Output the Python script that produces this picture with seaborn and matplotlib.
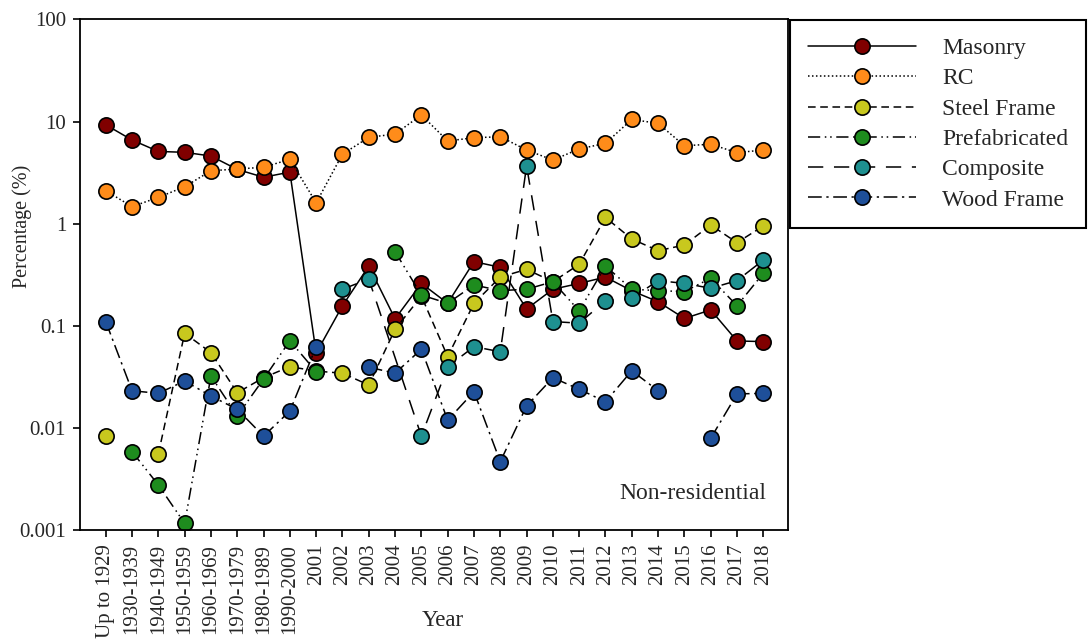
import numpy as np
import pandas as pd
import matplotlib
matplotlib.use("Agg")
import matplotlib.pyplot as plt
from matplotlib.lines import Line2D
from matplotlib.ticker import FixedLocator, FixedFormatter, NullLocator
import seaborn as sns

nan = np.nan

YEARS = ["Up to 1929", "1930-1939", "1940-1949", "1950-1959", "1960-1969",
         "1970-1979", "1980-1989", "1990-2000", "2001", "2002", "2003", "2004",
         "2005", "2006", "2007", "2008", "2009", "2010", "2011", "2012", "2013",
         "2014", "2015", "2016", "2017", "2018"]

MASONRY = [9.3, 6.6, 5.1, 5.0, 4.6, 3.4, 2.85, 3.2, 0.054, 0.157, 0.385, 0.117,
           0.26, 0.166, 0.425, 0.374, 0.146, 0.228, 0.26, 0.30, 0.22, 0.172,
           0.118, 0.143, 0.071, 0.070]
RC = [2.1, 1.47, 1.81, 2.3, 3.3, 3.43, 3.57, 4.27, 1.6, 4.8, 7.0, 7.56, 11.6,
      6.46, 6.95, 7.1, 5.27, 4.2, 5.39, 6.13, 10.5, 9.6, 5.8, 6.0, 4.96, 5.27]
STEEL = [0.0083, nan, 0.00555, 0.0845, 0.0546, 0.0221, 0.031, 0.0398, 0.036,
         0.0343, 0.0263, 0.0924, 0.195, 0.0499, 0.166, 0.30, 0.357, 0.27, 0.40,
         1.15, 0.708, 0.544, 0.618, 0.97, 0.652, 0.95]
PREFAB = [nan, 0.00585, 0.00276, 0.00116, 0.0322, 0.0131, 0.0301, 0.0714,
          0.0355, nan, nan, 0.532, 0.2, 0.166, 0.251, 0.221, 0.228, 0.27, 0.14,
          0.385, 0.228, 0.221, 0.216, 0.292, 0.157, 0.327]
COMPOSITE = [nan, nan, nan, nan, nan, nan, nan, nan, nan, 0.228, 0.287, nan,
             0.0083, 0.0398, 0.0624, 0.0557, 3.68, 0.11, 0.106, 0.176, 0.186,
             0.277, 0.26, 0.233, 0.277, 0.44]
WOOD = [0.11, 0.0231, 0.0218, 0.0288, 0.0205, 0.0152, 0.0083, 0.0146, 0.0624,
        nan, 0.0393, 0.0343, 0.0589, 0.0119, 0.0226, 0.00467, 0.0164, 0.031,
        0.0239, 0.018, 0.0363, 0.0231, nan, 0.0079, 0.0215, 0.0218]

SERIES = ["Masonry", "RC", "Steel Frame", "Prefabricated", "Composite", "Wood Frame"]
VALUES = [MASONRY, RC, STEEL, PREFAB, COMPOSITE, WOOD]
COLORS = ["#800000", "#ff8c1a", "#c8c81e", "#1e8c1e", "#1e9090", "#1e4f99"]
DASHES = ["", (1, 1.6), (5, 3), (8, 3, 1, 2.5, 1, 3), (10, 7), (9, 3, 1.5, 3)]
JOINED = ["Composite"]  # line drawn across its missing 2004 value

YTICKS = [0.001, 0.01, 0.1, 1, 10, 100]
YTICK_LABELS = ["0.001", "0.01", "0.1", "1", "10", "100"]

# long table, one "seg" per unbroken run of values
rows = []
for name, vals in zip(SERIES, VALUES):
    s = pd.Series(vals, dtype=float)
    seg = s.isna().cumsum() if name not in JOINED else pd.Series(0, index=s.index)
    for year, v, g in zip(YEARS, s, seg):
        if not np.isnan(v):
            rows.append({"year": year, "value": v, "type": name, "seg": f"{name}-{g}"})
df = pd.DataFrame(rows)

sns.set_theme(style="ticks")
plt.rcParams["font.family"] = ["Liberation Serif", "DejaVu Serif"]

fig, ax = plt.subplots(figsize=(10.88, 6.41), dpi=100)
fig.subplots_adjust(left=0.0735, right=0.7243, top=0.9696, bottom=0.1732)

sns.lineplot(data=df, x="year", y="value", hue="type", style="type", units="seg",
             estimator=None, sort=False, hue_order=SERIES, style_order=SERIES,
             palette=dict(zip(SERIES, COLORS)), dashes=dict(zip(SERIES, DASHES)),
             markers={s: "o" for s in SERIES}, markersize=11,
             markeredgecolor="black", markeredgewidth=1.2, linewidth=1.1,
             legend=False, ax=ax)

# black connecting lines, coloured marker faces
for line in ax.lines:
    line.set_markerfacecolor(line.get_color())
    line.set_color("black")

ax.set_yscale("log")
ax.set_ylim(0.001, 100)
ax.yaxis.set_major_locator(FixedLocator(YTICKS))
ax.yaxis.set_major_formatter(FixedFormatter(YTICK_LABELS))
ax.yaxis.set_minor_locator(NullLocator())
ax.set_xlim(-0.98, 25.94)
ax.set_xticks(range(len(YEARS)))
ax.set_xticklabels(YEARS, rotation=90)

ax.tick_params(direction="out", length=5, width=1.2, labelsize=15, pad=5, color="black")
for sp in ax.spines.values():
    sp.set_color("black")
    sp.set_linewidth(1.3)

ax.set_xlabel("Year", fontsize=16.5)
ax.xaxis.set_label_coords(0.512, -0.157)
ax.set_ylabel("Percentage (%)", fontsize=14.5)
ax.yaxis.set_label_coords(-0.068, 0.595)

ax.text(0.970, 0.072, "Non-residential", transform=ax.transAxes, fontsize=17,
        ha="right", va="center")

handles = [Line2D([], [], color="black", dashes=d, linewidth=1.1, marker="o",
                  markersize=11, markerfacecolor=c, markeredgecolor="black",
                  markeredgewidth=1.2) for c, d in zip(COLORS, DASHES)]
leg = ax.legend(handles, SERIES, loc="upper left", bbox_to_anchor=(790 / 1088, 1 - 20 / 641),
                bbox_transform=fig.transFigure, fontsize=17, handlelength=4.6,
                handletextpad=1.1, labelspacing=0.37, borderpad=0.75,
                borderaxespad=0, fancybox=False, framealpha=1)
leg.get_frame().set_edgecolor("black")
leg.get_frame().set_linewidth(1.5)

fig.savefig("out.png", dpi=100)
